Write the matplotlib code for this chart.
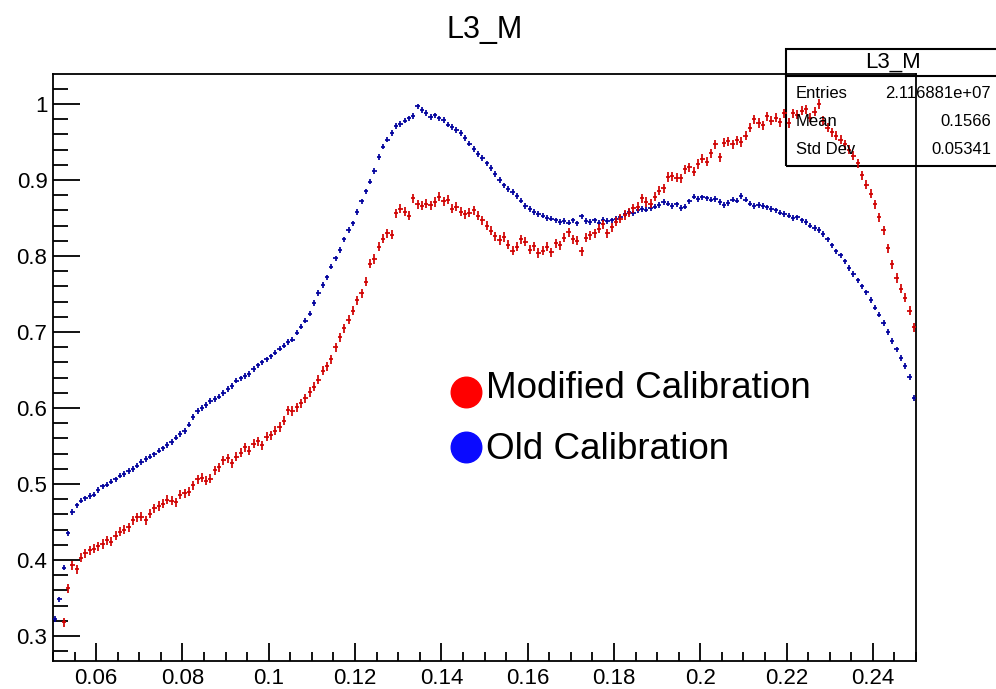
import numpy as np
import matplotlib
matplotlib.use("Agg")
import matplotlib.pyplot as plt
from matplotlib.patches import Rectangle
from matplotlib.ticker import MultipleLocator

plt.rcParams['font.family'] = ['Liberation Sans', 'DejaVu Sans']

# histogram: 200 bins between 0.05 and 0.25
x_lo, x_hi, n_bins = 0.05, 0.25, 200

# old calibration (blue)
old_cal = [
    0.322, 0.348, 0.390, 0.435, 0.463, 0.472, 0.478, 0.481, 0.484, 0.486,
    0.492, 0.497, 0.499, 0.503, 0.506, 0.511, 0.513, 0.517, 0.520, 0.524,
    0.529, 0.533, 0.536, 0.539, 0.544, 0.547, 0.551, 0.555, 0.561, 0.566,
    0.570, 0.578, 0.588, 0.596, 0.600, 0.604, 0.609, 0.612, 0.615, 0.620,
    0.625, 0.629, 0.636, 0.639, 0.642, 0.645, 0.651, 0.656, 0.660, 0.664,
    0.668, 0.673, 0.678, 0.682, 0.687, 0.690, 0.699, 0.707, 0.715, 0.724,
    0.738, 0.751, 0.762, 0.772, 0.786, 0.797, 0.808, 0.822, 0.834, 0.843,
    0.858, 0.872, 0.885, 0.898, 0.912, 0.930, 0.944, 0.953, 0.962, 0.971,
    0.974, 0.978, 0.981, 0.984, 0.997, 0.992, 0.988, 0.983, 0.985, 0.981,
    0.979, 0.973, 0.970, 0.966, 0.962, 0.955, 0.948, 0.941, 0.934, 0.929,
    0.922, 0.916, 0.908, 0.900, 0.893, 0.888, 0.884, 0.879, 0.873, 0.866,
    0.862, 0.858, 0.855, 0.853, 0.850, 0.849, 0.847, 0.845, 0.846, 0.844,
    0.847, 0.843, 0.852, 0.846, 0.845, 0.847, 0.844, 0.848, 0.846, 0.847,
    0.849, 0.851, 0.855, 0.858, 0.856, 0.860, 0.862, 0.861, 0.863, 0.865,
    0.867, 0.871, 0.869, 0.866, 0.868, 0.863, 0.865, 0.872, 0.878, 0.875,
    0.877, 0.876, 0.874, 0.875, 0.871, 0.867, 0.870, 0.874, 0.873, 0.879,
    0.874, 0.869, 0.866, 0.867, 0.866, 0.864, 0.862, 0.860, 0.857, 0.855,
    0.853, 0.850, 0.851, 0.847, 0.845, 0.840, 0.837, 0.834, 0.829, 0.822,
    0.814, 0.806, 0.801, 0.793, 0.784, 0.776, 0.768, 0.760, 0.752, 0.742,
    0.732, 0.723, 0.712, 0.700, 0.688, 0.677, 0.666, 0.655, 0.641, 0.613,
]

# modified calibration (red)
mod_cal = [
    0.210, 0.250, 0.318, 0.363, 0.393, 0.388, 0.403, 0.409, 0.413, 0.415,
    0.418, 0.421, 0.426, 0.424, 0.432, 0.437, 0.440, 0.443, 0.452, 0.456,
    0.457, 0.452, 0.461, 0.468, 0.471, 0.474, 0.479, 0.478, 0.476, 0.486,
    0.488, 0.490, 0.498, 0.506, 0.508, 0.504, 0.507, 0.518, 0.522, 0.531,
    0.534, 0.527, 0.536, 0.541, 0.548, 0.544, 0.553, 0.556, 0.551, 0.562,
    0.564, 0.570, 0.575, 0.583, 0.597, 0.596, 0.601, 0.606, 0.613, 0.621,
    0.628, 0.637, 0.649, 0.655, 0.664, 0.680, 0.693, 0.705, 0.716, 0.728,
    0.742, 0.751, 0.766, 0.790, 0.796, 0.812, 0.823, 0.830, 0.828, 0.856,
    0.862, 0.858, 0.853, 0.876, 0.868, 0.866, 0.869, 0.867, 0.871, 0.878,
    0.872, 0.874, 0.862, 0.865, 0.858, 0.855, 0.857, 0.860, 0.853, 0.847,
    0.840, 0.833, 0.826, 0.821, 0.825, 0.815, 0.807, 0.812, 0.822, 0.819,
    0.808, 0.813, 0.804, 0.807, 0.812, 0.805, 0.817, 0.814, 0.824, 0.831,
    0.822, 0.820, 0.806, 0.824, 0.827, 0.830, 0.836, 0.842, 0.830, 0.838,
    0.845, 0.849, 0.854, 0.857, 0.863, 0.865, 0.876, 0.871, 0.869, 0.878,
    0.886, 0.889, 0.904, 0.905, 0.903, 0.902, 0.914, 0.917, 0.911, 0.921,
    0.928, 0.924, 0.935, 0.947, 0.930, 0.949, 0.951, 0.947, 0.952, 0.950,
    0.958, 0.969, 0.980, 0.975, 0.972, 0.984, 0.978, 0.982, 0.976, 0.988,
    0.975, 0.988, 0.986, 0.991, 0.993, 0.982, 0.990, 1.000, 0.978, 0.969,
    0.963, 0.958, 0.953, 0.947, 0.940, 0.932, 0.922, 0.906, 0.894, 0.882,
    0.868, 0.851, 0.834, 0.810, 0.789, 0.771, 0.757, 0.745, 0.728, 0.706,
]

old_err = 0.0036
mod_err = 0.006

stats_rows = [("Entries", "2.116881e+07"), ("Mean", "0.1566"), ("Std Dev", "0.05341")]

edges = np.linspace(x_lo, x_hi, n_bins + 1)
centers = 0.5 * (edges[:-1] + edges[1:])
half_w = 0.5 * (edges[1] - edges[0])

fig = plt.figure(figsize=(9.96, 6.89), dpi=100)
ax = fig.add_axes([0.0532, 0.0406, 0.8665, 0.852])

ax.errorbar(centers, old_cal, xerr=half_w, yerr=old_err, fmt='none',
            ecolor='#00009c', elinewidth=1.25, capsize=0, zorder=3)
ax.errorbar(centers, mod_cal, xerr=half_w, yerr=mod_err, fmt='none',
            ecolor='#d00000', elinewidth=1.25, capsize=0, zorder=4)

ax.set_xlim(x_lo, x_hi)
ax.set_ylim(0.267, 1.0395)

ax.xaxis.set_minor_locator(MultipleLocator(0.005))
ax.yaxis.set_minor_locator(MultipleLocator(0.02))
ax.set_xticks(np.arange(0.06, 0.2401, 0.02))
ax.set_xticklabels(['0.06', '0.08', '0.1', '0.12', '0.14', '0.16', '0.18', '0.2', '0.22', '0.24'])
ax.set_yticks(np.arange(0.3, 1.01, 0.1))
ax.set_yticklabels(['0.3', '0.4', '0.5', '0.6', '0.7', '0.8', '0.9', '1'])

ax.tick_params(axis='both', which='both', direction='in', width=1.3, top=False, right=False)
ax.tick_params(axis='y', which='major', length=19.5, labelsize=16, pad=4)
ax.tick_params(axis='y', which='minor', length=10.5)
ax.tick_params(axis='x', which='major', length=13, labelsize=16, pad=5)
ax.tick_params(axis='x', which='minor', length=6.5)
for sp in ax.spines.values():
    sp.set_linewidth(1.3)

# hand-drawn legend
ax.plot([0.1456], [0.621], 'o', color='#ff0000', markersize=22, zorder=5)
ax.plot([0.1456], [0.549], 'o', color='#0a0aff', markersize=22, zorder=5)
ax.text(0.1503, 0.626, "Modified Calibration", fontsize=26.5, va='center', ha='left', zorder=6)
ax.text(0.1503, 0.545, "Old Calibration", fontsize=26.5, va='center', ha='left', zorder=6)

fig.text(0.487, 0.956, "L3_M", fontsize=22, ha='center', va='center')

# stats box
bx0, by0, bw, bh = 786 / 996, (689 - 166) / 689, 214 / 996, 117 / 689
ax.add_patch(Rectangle((bx0, by0), bw, bh, transform=fig.transFigure, fill=False,
                       edgecolor='black', linewidth=1.5, clip_on=False, zorder=2))
hy = (689 - 76) / 689
ax.plot([bx0, bx0 + bw], [hy, hy], transform=fig.transFigure, color='black',
        linewidth=1.5, clip_on=False, zorder=2)
fig.text(893 / 996, (689 - 62) / 689, "L3_M", fontsize=16, ha='center', va='center')
for k, (name, val) in enumerate(stats_rows):
    yy = (689 - (93 + 28.5 * k)) / 689
    fig.text(796 / 996, yy, name, fontsize=12, ha='left', va='center')
    fig.text(991 / 996, yy, val, fontsize=12, ha='right', va='center')

fig.savefig("out.png", dpi=100)
